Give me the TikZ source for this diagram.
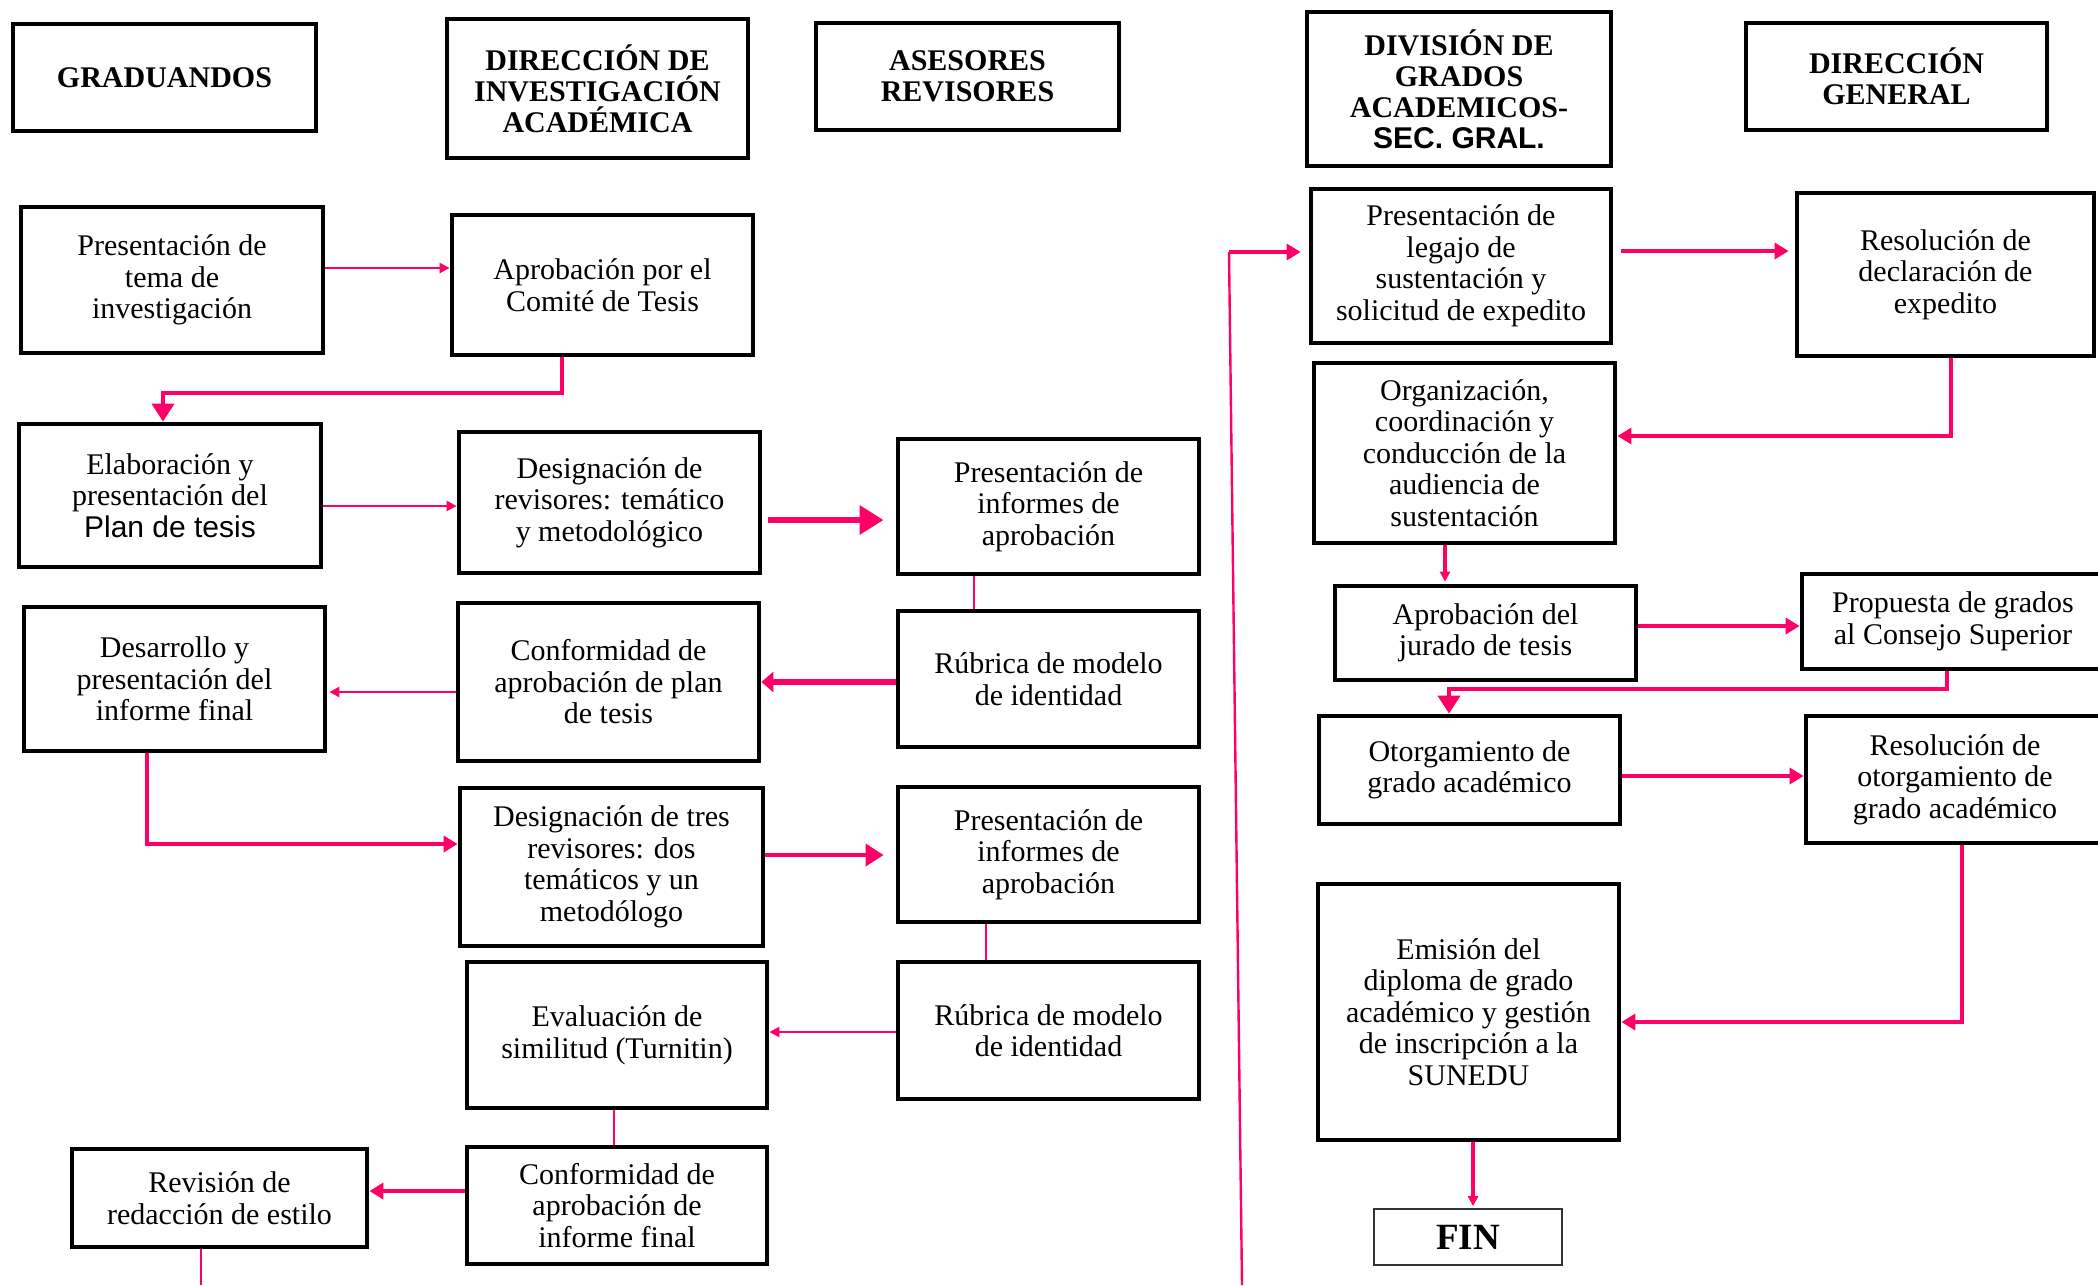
\documentclass[tikz,border=0pt]{standalone}
\usepackage{fontspec}
\setmainfont{Liberation Serif}
\newfontfamily\arialf{Liberation Sans}
\usetikzlibrary{arrows.meta,calc}
\definecolor{pk}{RGB}{255,0,102}
\tikzset{
  box/.style={draw=black, line width=2.4pt, align=center, inner sep=0pt, fill=white,
    font=\fontsize{15}{15.75}\selectfont},
  hbox/.style={box, font=\fontsize{15}{15.5}\selectfont\bfseries},
  finbox/.style={draw=black!80, line width=0.9pt, align=center, inner sep=0pt,
    font=\fontsize{18.5}{20}\selectfont\bfseries},
  lnthin/.style={draw=pk, line width=1.2pt},
  lnmed/.style={draw=pk, line width=2pt},
  lnthick/.style={draw=pk, line width=3pt},
  tipS/.style={-{Triangle[length=5pt,width=5pt]}},
  tipM/.style={-{Triangle[length=7pt,width=8pt]}},
  tipL/.style={-{Triangle[length=9pt,width=11pt]}},
  tipXL/.style={-{Triangle[length=12pt,width=14pt]}},
}
\newcommand\bx[7]{%
  \pgfmathsetmacro\bxcx{(#3+#5)/2}%
  \pgfmathsetmacro\bxcy{(#4+#6)/2}%
  \pgfmathsetmacro\bxw{(#5-#3)*0.5}%
  \pgfmathsetmacro\bxh{(#6-#4)*0.5}%
  \node[#1, minimum width=\bxw pt, minimum height=\bxh pt] (#2) at (\bxcx,\bxcy) {#7};%
}
\begin{document}
\begin{tikzpicture}[x=0.5pt,y=-0.5pt]
\useasboundingbox (0,0) rectangle (2098,1285);
\fill[white] (0,0) rectangle (2098,1285);

% headers
\bx{hbox}{hA}{13}{24}{316}{131}{GRADUANDOS}
\bx{hbox}{hB}{447}{19}{748}{158}{DIRECCIÓN DE\\INVESTIGACIÓN\\ACADÉMICA}
\bx{hbox}{hC}{816}{23}{1119}{130}{ASESORES\\REVISORES}
\bx{hbox}{hD}{1307}{12}{1611}{166}{DIVISIÓN DE\\GRADOS\\ACADEMICOS-\\{\arialf SEC. GRAL.}}
\bx{hbox}{hE}{1746}{23}{2047}{130}{DIRECCIÓN\\GENERAL}

% left part
\bx{box}{tema}{21}{207}{323}{353}{Presentación de\\tema de\\investigación}
\bx{box}{comite}{452}{215}{753}{355}{Aprobación por el\\Comité de Tesis}
\bx{box}{plan}{19}{424}{321}{567}{Elaboración y\\presentación del\\{\arialf Plan de tesis}}
\bx{box}{desigA}{459}{432}{760}{573}{Designación de\\revisores: temático\\y metodológico}
\bx{box}{infA}{898}{439}{1199}{574}{Presentación de\\informes de\\aprobación}
\bx{box}{desarrollo}{24}{607}{325}{751}{Desarrollo y\\presentación del\\informe final}
\bx{box}{confA}{458}{603}{759}{761}{Conformidad de\\aprobación de plan\\de tesis}
\bx{box}{rubA}{898}{611}{1199}{747}{Rúbrica de modelo\\de identidad}
\bx{box}{desigB}{460}{788}{763}{946}{Designación de tres\\revisores: dos\\temáticos y un\\metodólogo}
\bx{box}{infB}{898}{787}{1199}{922}{Presentación de\\informes de\\aprobación}
\bx{box}{evalu}{467}{962}{767}{1108}{Evaluación de\\similitud (Turnitin)}
\bx{box}{rubB}{898}{962}{1199}{1099}{Rúbrica de modelo\\de identidad}
\bx{box}{revision}{72}{1149}{367}{1247}{Revisión de\\redacción de estilo}
\bx{box}{confB}{467}{1147}{767}{1264}{Conformidad de\\aprobación de\\informe final}

% right part
\bx{box}{legajo}{1311}{189}{1611}{343}{Presentación de\\legajo de\\sustentación y\\solicitud de expedito}
\bx{box}{resolA}{1797}{193}{2094}{356}{Resolución de\\declaración de\\expedito}
\bx{box}{organiz}{1314}{363}{1615}{543}{Organización,\\coordinación y\\conducción de la\\audiencia de\\sustentación}
\bx{box}{jurado}{1335}{586}{1636}{680}{Aprobación del\\jurado de tesis}
\bx{box}{propuesta}{1802}{574}{2104}{669}{Propuesta de grados\\al Consejo Superior}
\bx{box}{otorg}{1319}{716}{1620}{824}{Otorgamiento de\\grado académico}
\bx{box}{resolB}{1806}{716}{2104}{843}{Resolución de\\otorgamiento de\\grado académico}
\bx{box}{emision}{1318}{884}{1619}{1140}{Emisión del\\diploma de grado\\académico y gestión\\de inscripción a la\\SUNEDU}
\bx{finbox}{fin}{1374}{1209}{1562}{1265}{FIN}

% helper coordinates
\coordinate (ya) at (0,268);
\coordinate (xb) at (562,393);
\coordinate (xb2) at (163,0);
\coordinate (yc) at (0,506);
\coordinate (yd) at (0,520);
\coordinate (xe) at (974,0);
\coordinate (yf) at (0,682);
\coordinate (yg) at (0,692);
\coordinate (xh) at (147,844);
\coordinate (yi) at (0,855);
\coordinate (xj) at (986,0);
\coordinate (yk) at (0,1032);
\coordinate (xl) at (614,0);
\coordinate (ym) at (0,1191);
\coordinate (nend) at (201,1285);
\coordinate (lbot) at (1242,1285);
\coordinate (ltop) at (1229,252);
\coordinate (yo) at (0,251);
\coordinate (xp) at (1951,436);
\coordinate (xq) at (1445,0);
\coordinate (yr) at (0,626);
\coordinate (s1) at (1947,689);
\coordinate (s2) at (1449,0);
\coordinate (yt) at (0,776);
\coordinate (xu) at (1962,1022);
\coordinate (xv) at (1473,0);

% connectors left
\draw[lnthin,tipS] (tema.east |- ya) -- (comite.west |- ya);
\draw[lnmed,tipL] (comite.south -| xb) -- (xb) -| (plan.north -| xb2);
\draw[lnthin,tipS] (plan.east |- yc) -- (desigA.west |- yc);
\draw[lnthick,tipXL,shorten <=3pt,shorten >=6pt] (desigA.east |- yd) -- (infA.west |- yd);
\draw[lnthin] (infA.south -| xe) -- (rubA.north -| xe);
\draw[lnthick,-{Triangle[length=6pt,width=10pt]}] (rubA.west |- yf) -- (confA.east |- yf);
\draw[lnthin,tipS,shorten >=1pt] (confA.west |- yg) -- (desarrollo.east |- yg);
\draw[lnmed,tipM] (desarrollo.south -| xh) |- (desigB.west |- xh);
\draw[lnmed,tipL,shorten >=6pt] (desigB.east |- yi) -- (infB.west |- yi);
\draw[lnthin] (infB.south -| xj) -- (rubB.north -| xj);
\draw[lnthin,tipS] (rubB.west |- yk) -- (evalu.east |- yk);
\draw[lnthin] (evalu.south -| xl) -- (confB.north -| xl);
\draw[lnmed,tipM] (confB.west |- ym) -- (revision.east |- ym);
\draw[lnthin] (revision.south -| nend) -- (nend);

% long connector
\draw[lnthin] (lbot) -- (ltop);
\draw[lnmed,tipM,shorten >=4pt] (ltop) -- (legajo.west |- ltop);

% connectors right
\draw[lnmed,tipM,shorten <=4pt,shorten >=3pt] (legajo.east |- yo) -- (resolA.west |- yo);
\draw[lnmed,tipM] (resolA.south -| xp) |- (organiz.east |- xp);
\draw[lnmed,tipS,shorten >=1pt] (organiz.south -| xq) -- (jurado.north -| xq);
\draw[lnmed,tipM] (jurado.east |- yr) -- (propuesta.west |- yr);
\draw[lnmed,tipL] (propuesta.south -| s1) -- (s1) -| (otorg.north -| s2);
\draw[lnmed,tipM] (otorg.east |- yt) -- (resolB.west |- yt);
\draw[lnmed,tipM] (resolB.south -| xu) |- (emision.east |- xu);
\draw[lnmed,tipS,shorten >=1pt] (emision.south -| xv) -- (fin.north -| xv);
\end{tikzpicture}
\end{document}
